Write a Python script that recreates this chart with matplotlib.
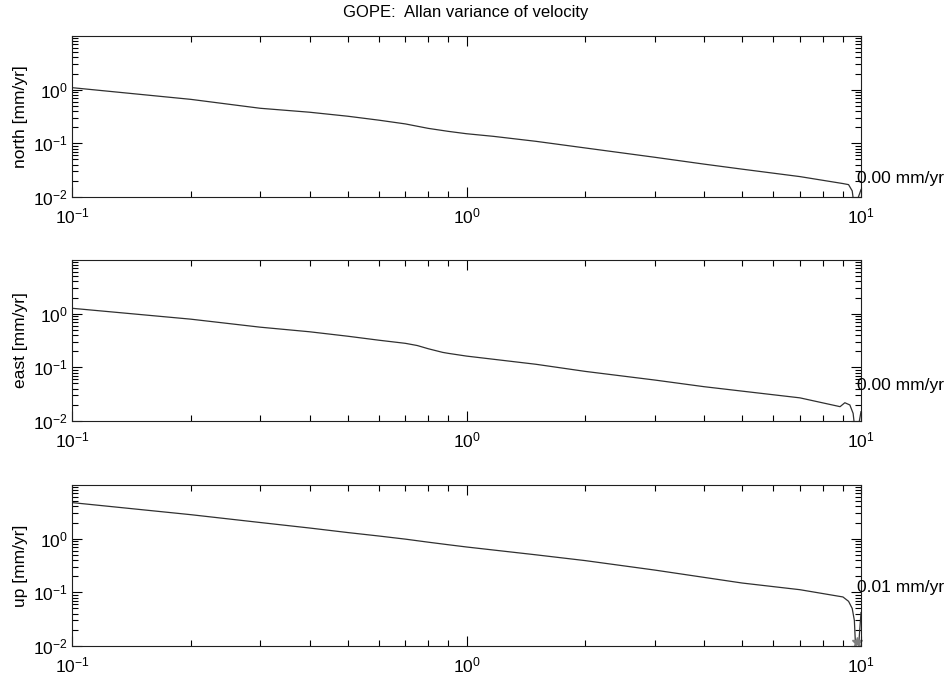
import numpy as np
import matplotlib
matplotlib.use("Agg")
import matplotlib.pyplot as plt
from matplotlib.ticker import LogLocator, NullFormatter

plt.rcParams['font.family'] = ['Liberation Sans', 'DejaVu Sans']
plt.rcParams['mathtext.fontset'] = 'custom'
plt.rcParams['mathtext.rm'] = 'Liberation Sans'
plt.rcParams['mathtext.it'] = 'Liberation Sans'

title = "GOPE:  Allan variance of velocity"
components = ["north", "east", "up"]
ylabels = ["north [mm/yr]", "east [mm/yr]", "up [mm/yr]"]
end_labels = ["0.00 mm/yr", "0.00 mm/yr", "0.01 mm/yr"]

# averaging interval (years)
tau_north = [0.1, 0.2, 0.3, 0.4, 0.5, 0.6, 0.7, 0.8, 0.9, 1.0, 1.17, 1.5, 2.0, 3.0, 4.0, 5.0,
             7.0, 9.0, 9.3, 9.5, 9.66, 9.8, 10.0]
north = [1.09, 0.66, 0.45, 0.38, 0.32, 0.27, 0.23, 0.19, 0.167, 0.151, 0.135, 0.109, 0.082,
         0.055, 0.041, 0.033, 0.024, 0.0178, 0.0170, 0.013, 0.005, 0.009, 0.0137]

tau_east = [0.1, 0.2, 0.3, 0.4, 0.5, 0.6, 0.7, 0.75, 0.8, 0.87, 0.9, 1.0, 1.5, 2.0, 3.0, 4.0,
            5.0, 7.0, 8.85, 9.1, 9.37, 9.55, 9.7, 9.85, 10.0]
east = [1.26, 0.79, 0.56, 0.46, 0.38, 0.32, 0.28, 0.255, 0.222, 0.19, 0.182, 0.162, 0.114,
        0.084, 0.058, 0.0436, 0.036, 0.027, 0.0185, 0.0219, 0.0199, 0.0139, 0.005, 0.008,
        0.0149]

tau_up = [0.1, 0.2, 0.3, 0.4, 0.5, 0.6, 0.7, 0.8, 0.9, 1.0, 1.5, 2.0, 3.0, 4.0, 5.0, 7.0,
          9.0, 9.3, 9.5, 9.62, 9.7, 9.78, 9.9, 10.0]
up = [4.7, 2.8, 2.0, 1.58, 1.3, 1.12, 0.98, 0.86, 0.77, 0.70, 0.50, 0.39, 0.26, 0.19,
      0.149, 0.112, 0.082, 0.068, 0.05, 0.03, 0.008, 0.004, 0.015, 0.042]

marker_tau = [9.78]
marker_up = [0.012]

series = [(tau_north, north), (tau_east, east), (tau_up, up)]
label_y = [0.118, 0.219, 0.365]

fig = plt.figure(figsize=(9.5, 6.77), dpi=100)
fig.patch.set_facecolor('white')

left = 72 / 950
width = 789 / 950
height = 161 / 677
bottoms = [1 - 197 / 677, 1 - 421 / 677, 1 - 646 / 677]

for i, (tx, vy) in enumerate(series):
    ax = fig.add_axes([left, bottoms[i], width, height])
    ax.plot(tx, vy, color='#303030', lw=0.9)
    if i == 2:
        ax.plot(marker_tau, marker_up, linestyle='none', marker='*', color='#808080',
                markersize=7, clip_on=False)
    ax.set_xscale('log')
    ax.set_yscale('log')
    ax.set_xlim(0.1, 10)
    ax.set_ylim(0.01, 10)
    ax.set_yticks([0.01, 0.1, 1])
    ax.yaxis.set_minor_locator(LogLocator(base=10, subs=np.arange(2, 10), numticks=20))
    ax.yaxis.set_minor_formatter(NullFormatter())
    ax.xaxis.set_minor_formatter(NullFormatter())
    ax.tick_params(which='both', direction='in', top=True, right=True, labelsize=12.5,
                   width=0.8, colors='black')
    ax.tick_params(which='major', length=7)
    ax.tick_params(which='minor', length=4)
    ax.tick_params(axis='x', which='major', pad=7)
    ax.tick_params(axis='y', which='major', pad=3)
    for sp in ax.spines.values():
        sp.set_linewidth(0.8)
        sp.set_color('#202020')
    ax.set_ylabel(ylabels[i], fontsize=12.5)
    ax.yaxis.set_label_coords(-0.056, 0.5)
    ax.text(0.995, label_y[i], end_labels[i], transform=ax.transAxes, ha='left',
            va='center', fontsize=12.5, clip_on=False)

fig.text(466 / 950, 1 - 12 / 677, title, ha='center', va='center', fontsize=12)

fig.savefig('out.png', dpi=100, facecolor='white')
